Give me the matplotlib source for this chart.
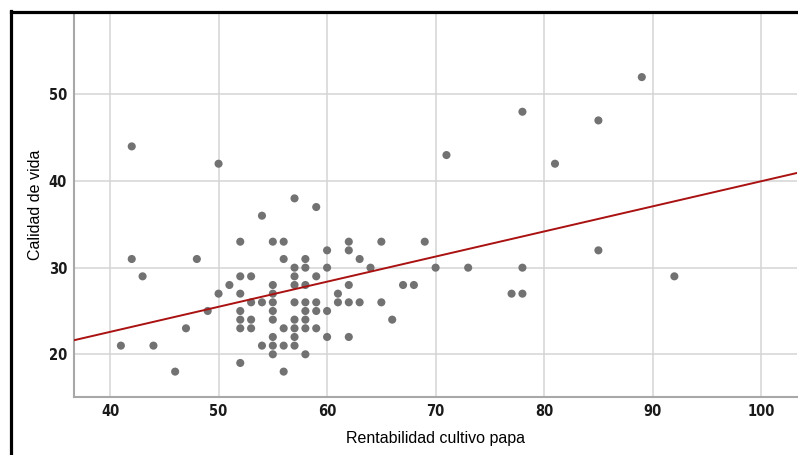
import numpy as np
import matplotlib
matplotlib.use("Agg")
import matplotlib.pyplot as plt
from matplotlib.lines import Line2D

# values, one pair per dot
rentabilidad = [41, 42, 42, 43, 44, 46, 47, 48, 49, 50, 50, 51,
                52, 52, 52, 52, 52, 52, 52,
                53, 53, 53, 53,
                54, 54, 54,
                55, 55, 55, 55, 55, 55, 55, 55, 55,
                56, 56, 56, 56, 56,
                57, 57, 57, 57, 57, 57, 57, 57, 57,
                58, 58, 58, 58, 58, 58, 58, 58,
                59, 59, 59, 59, 59,
                60, 60, 60, 60,
                61, 61,
                62, 62, 62, 62, 62,
                63, 63, 64, 65, 65, 66, 67, 68, 69,
                70, 71, 73, 77, 78, 78, 78, 81, 85, 85, 89, 92]
calidad = [21, 31, 44, 29, 21, 18, 23, 31, 25, 27, 42, 28,
           33, 29, 27, 25, 24, 23, 19,
           29, 26, 24, 23,
           36, 26, 21,
           33, 28, 27, 26, 25, 24, 22, 21, 20,
           33, 31, 23, 21, 18,
           38, 30, 29, 28, 26, 24, 23, 22, 21,
           31, 30, 28, 26, 25, 24, 23, 20,
           37, 29, 26, 25, 23,
           32, 30, 25, 22,
           27, 26,
           33, 32, 28, 26, 22,
           31, 26, 30, 33, 26, 24, 28, 28, 33,
           30, 43, 30, 27, 48, 30, 27, 42, 47, 32, 52, 29]

x_ticks = [40, 50, 60, 70, 80, 90, 100]
y_ticks = [20, 30, 40, 50]

x = np.array(rentabilidad, dtype=float)
y = np.array(calidad, dtype=float)
# linear fit line, same as the SPSS "fit line at total"
slope, intercept = np.polyfit(x, y, 1)

fig = plt.figure(figsize=(7.98, 4.55), dpi=100)
ax = fig.add_axes([74 / 798, 1 - 397 / 455, 723 / 798, 384 / 455])

xlim = (36.68, 103.3)
ylim = (15.07, 59.4)
ax.set_xlim(*xlim)
ax.set_ylim(*ylim)

ax.grid(True, color="#d4d4d4", linewidth=1.1, zorder=0)
ax.set_axisbelow(True)

ax.scatter(x, y, s=34, color="#727272", edgecolors="none", zorder=3)

xs = np.array(xlim)
ax.plot(xs, intercept + slope * xs, color="#aa1111", linewidth=1.4, zorder=4)

ax.set_xticks(x_ticks)
ax.set_yticks(y_ticks)
tick_font = dict(family=["DejaVu Sans"], stretch="condensed", weight="bold", size=10.5)
ax.set_xticklabels([str(t) for t in x_ticks], fontdict=tick_font)
ax.set_yticklabels([str(t) for t in y_ticks], fontdict=tick_font)
ax.tick_params(length=0, pad=5, colors="#1a1a1a")

for side in ("top", "right"):
    ax.spines[side].set_visible(False)
for side in ("left", "bottom"):
    ax.spines[side].set_color("#a8a8a8")
    ax.spines[side].set_linewidth(1.5)

lab_font = dict(family="Liberation Sans", size=11.5, color="#000000")
ax.set_xlabel("Rentabilidad cultivo papa", fontdict=lab_font)
ax.set_ylabel("Calidad de vida", fontdict=lab_font)
ax.xaxis.label.set_va("center")
ax.yaxis.label.set_va("center")
ax.xaxis.set_label_coords(0.5, (397 - 438) / 384)
ax.yaxis.set_label_coords((35.7 - 74) / 723, 0.5)

# black frame of the chart window (left and top edges)
fig.add_artist(Line2D([10.5 / 798, 10.5 / 798], [0, 1 - 10.5 / 455],
                      transform=fig.transFigure, color="black", linewidth=2.3,
                      solid_capstyle="projecting"))
fig.add_artist(Line2D([10.5 / 798, 1], [1 - 11.5 / 455, 1 - 11.5 / 455],
                      transform=fig.transFigure, color="black", linewidth=2.3,
                      solid_capstyle="projecting"))

fig.savefig("out.png", dpi=100)
